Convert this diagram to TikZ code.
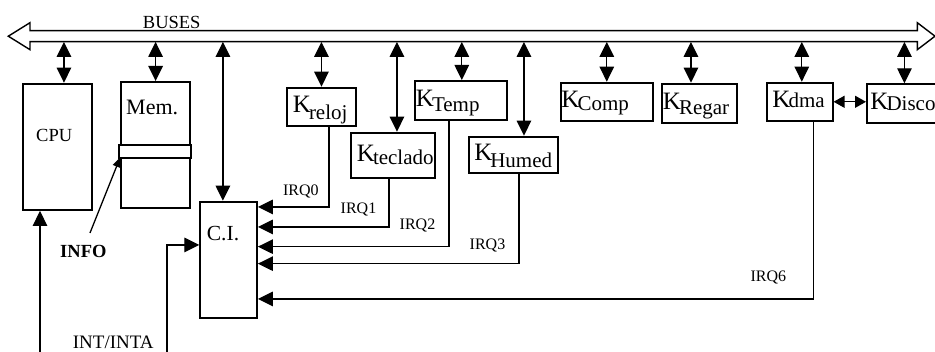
\documentclass[tikz,border=0pt]{standalone}
\usepackage{fontspec}
\setmainfont{Liberation Serif}
\usetikzlibrary{positioning,arrows.meta}
\newcommand{\Kdev}[2][5pt]{K\kern-2pt\raisebox{-#1}{\fontsize{21}{23}\selectfont #2}}

\begin{document}
\begin{tikzpicture}[
    x=1pt, y=-1pt,
    box/.style={draw, line width=1.9pt, inner sep=0pt, anchor=north west},
    kbox/.style={box, align=left, text height=17pt, text depth=5pt,
        font=\fontsize{25}{27}\selectfont},
    lbl/.style={inner sep=0pt, font=\fontsize{18.5}{20}\selectfont},
    irq/.style={inner sep=0pt, anchor=base east, font=\fontsize{16}{18}\selectfont},
    wire/.style={line width=1.3pt},
    arr/.style={wire, -{Triangle[length=15pt,width=14.5pt]}},
    dbl/.style={wire, {Triangle[length=15pt,width=14.5pt]}-{Triangle[length=15pt,width=14.5pt]}},
    dblsmall/.style={wire, {Triangle[length=11pt,width=12pt]}-{Triangle[length=11pt,width=12pt]}}
]
\useasboundingbox (0,0) rectangle (935,352);

% bus
\node[inner sep=0pt, minimum width=887pt, minimum height=11pt] (bus) at (473.5,36.2) {};
\draw[wire, line width=1.4pt, line join=miter] (8.3,36.2) -- (30,22.7) -- (30,30.7) -- (917.3,30.7)
    -- (917.3,22.7) -- (935,36.2) -- (917.3,49.7) -- (917.3,41.7) -- (30,41.7) -- (30,49.7) -- cycle;
\node[lbl, anchor=base] (buslbl) at (171.7,28.3) {BUSES};

% CPU, memory, interrupt controller
\node[box, minimum width=69pt, minimum height=126.3pt] (cpu) at (21.7,82.7) {};
\node[box, minimum width=69.3pt, minimum height=126.3pt] (mem) at (120,81) {};
\node[box, fill=white, minimum width=71.7pt, minimum height=13.3pt] (memcell) at (118.3,144) {};
\node[box, minimum width=56.7pt, minimum height=116.6pt] (ci) at (199.3,200.7) {};
\node[lbl, anchor=base] (cpulbl) at (54.2,141.7) {CPU};
\node[lbl, anchor=base west, font=\fontsize{22}{24}\selectfont] (memlbl) at (126,115) {Mem.};
\node[lbl, anchor=base west, font=\fontsize{21.5}{23}\selectfont] (cilbl) at (206.7,240.7) {C.I.};
\node[lbl, anchor=base west, font=\bfseries\fontsize{18.5}{20}\selectfont] (infolbl) at (60,257.3) {INFO};
\node[lbl, anchor=base west, font=\fontsize{19}{21}\selectfont] (intlbl) at (72.7,348.3) {INT/INTA};

% controllers
\node[kbox, text width=57pt, inner xsep=6pt, minimum height=38.3pt] (kreloj) at (286,86.7) {\Kdev[6.6pt]{reloj}};
\node[kbox, text width=72pt, inner xsep=6pt, minimum height=45.6pt] (kteclado) at (350,131.7) {\Kdev[3.4pt]{teclado}};
\node[kbox, text width=89.7pt, inner xsep=1pt, minimum height=39.3pt] (ktemp) at (414,80) {\Kdev{Temp}};
\node[kbox, text width=78.4pt, inner xsep=5pt, minimum height=36pt] (khumed) at (468.3,135.7) {\Kdev[6.7pt]{Humed}};
\node[kbox, text width=90.7pt, inner xsep=0.5pt, minimum height=38.3pt] (kcomp) at (560,81.7) {\Kdev[2.7pt]{Comp}};
\node[kbox, text width=73pt, inner xsep=1pt, minimum height=39pt] (kregar) at (661,82.7) {\Kdev[5.4pt]{Regar}};
\node[kbox, text width=54.7pt, inner xsep=5.5pt, minimum height=38.3pt] (kdma) at (766,81.7) {\Kdev[0pt]{dma}};
\node[kbox, text width=68pt, inner xsep=3.5pt, minimum height=38.4pt] (kdisco) at (866,83.3) {\Kdev[0.7pt]{Disco}};

\coordinate (cpubot) at (40,352);
\coordinate (intbot) at (167,352);
\coordinate (infotail) at (90,233);

% bus connections
\draw[dbl] ([xshift=6.8pt]cpu.north |- bus.south) -- ([xshift=6.8pt]cpu.north);
\draw[dbl] (mem.north |- bus.south) -- (mem.north);
\draw[dbl] ([xshift=-5.7pt]ci.north |- bus.south) -- ([xshift=-5.7pt]ci.north);
\draw[dbl] (kreloj.north |- bus.south) -- (kreloj.north);
\draw[dbl] ([xshift=4pt]kteclado.north |- bus.south) -- ([xshift=4pt]kteclado.north);
\draw[dbl] ([xshift=1pt]ktemp.north |- bus.south) -- ([xshift=1pt]ktemp.north);
\draw[dbl] ([xshift=10.5pt]khumed.north |- bus.south) -- ([xshift=10.5pt]khumed.north);
\draw[dbl] (kcomp.north |- bus.south) -- (kcomp.north);
\draw[dbl] ([xshift=-8.5pt]kregar.north |- bus.south) -- ([xshift=-8.5pt]kregar.north);
\draw[dbl] ([xshift=2pt]kdma.north |- bus.south) -- ([xshift=2pt]kdma.north);
\draw[dbl] (kdisco.north |- bus.south) -- (kdisco.north);
\draw[dblsmall] (kdma.east) -- (kdma.east -| kdisco.west);

% interrupt lines
\draw[arr] ([xshift=7.5pt]kreloj.south) |- node[irq, xshift=-9.7pt, yshift=11pt] (irq0) {IRQ0} ([yshift=53pt]ci.east);
\draw[arr] ([xshift=-4pt]kteclado.south) |- node[irq, xshift=-12pt, yshift=13.3pt] (irq1) {IRQ1} ([yshift=33pt]ci.east);
\draw[arr] ([xshift=-11.9pt]ktemp.south) |- node[irq, xshift=-13pt, yshift=16.7pt] (irq2) {IRQ2} ([yshift=13.3pt]ci.east);
\draw[arr] ([xshift=5.5pt]khumed.south) |- node[irq, xshift=-13pt, yshift=13.7pt] (irq3) {IRQ3} ([yshift=-3.7pt]ci.east);
\draw[arr] ([xshift=14pt]kdma.south) |- node[irq, xshift=-27pt, yshift=17.3pt] (irq6) {IRQ6} ([yshift=-39pt]ci.east);

\draw[arr] (cpubot) -- (cpubot |- cpu.south);
\draw[arr] (intbot) |- ([yshift=15pt]ci.west);
\draw[wire, -{Triangle[length=10pt,width=8pt]}] (infotail) -- ([shift={(2pt,2pt)}]memcell.south west);
\end{tikzpicture}
\end{document}
